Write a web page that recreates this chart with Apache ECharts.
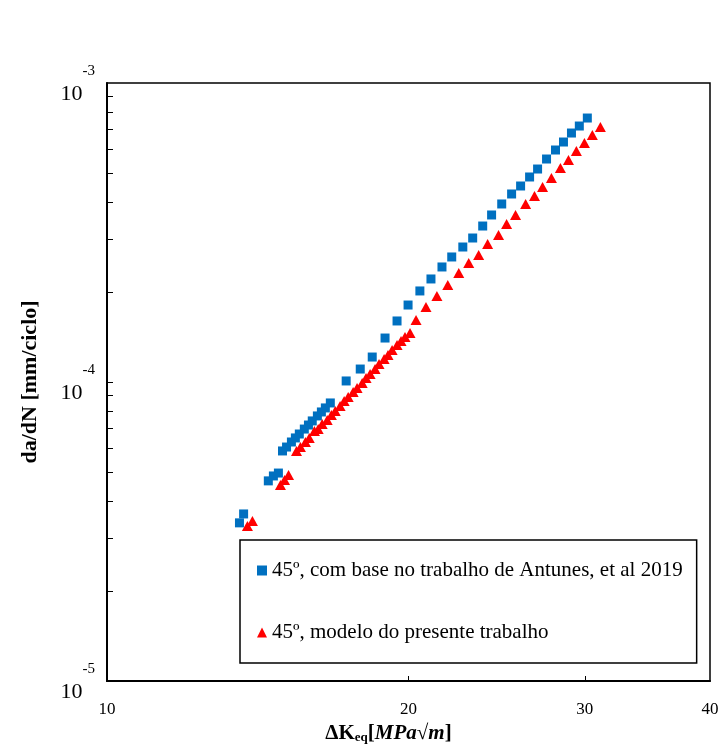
<!DOCTYPE html>
<html>
<head>
<meta charset="utf-8">
<script src="https://cdn.jsdelivr.net/npm/echarts@6/dist/echarts.min.js"></script>
<style>
  html, body { margin: 0; padding: 0; background: #fff; }
  #chart { width: 724px; height: 744px; }
</style>
</head>
<body>
<div id="chart"></div>
<script>
// ΔK_eq [MPa√m] and da/dN [mm/ciclo] for the two data sets
const antunesK = [13.56, 13.69, 14.49, 14.66, 14.83,
  14.97, 15.11, 15.28, 15.42, 15.56, 15.74, 15.89, 16.03, 16.22, 16.37, 16.52, 16.71,
  17.33, 17.90, 18.40, 18.95, 19.48, 19.98, 20.53, 21.06, 21.60, 22.09, 22.66, 23.18,
  23.72, 24.21, 24.78, 25.35, 25.88, 26.42, 26.91, 27.47, 28.04, 28.56, 29.09, 29.62, 30.17];
const antunesRate = [3.38e-5, 3.62e-5, 4.67e-5, 4.85e-5, 4.96e-5,
  5.88e-5, 6.06e-5, 6.30e-5, 6.50e-5, 6.70e-5, 6.96e-5, 7.18e-5, 7.41e-5, 7.70e-5, 7.94e-5, 8.19e-5, 8.51e-5,
  1.008e-4, 1.105e-4, 1.212e-4, 1.403e-4, 1.600e-4, 1.809e-4, 2.016e-4, 2.211e-4, 2.425e-4, 2.619e-4, 2.828e-4, 3.031e-4,
  3.324e-4, 3.619e-4, 3.939e-4, 4.254e-4, 4.524e-4, 4.849e-4, 5.156e-4, 5.569e-4, 5.969e-4, 6.348e-4, 6.803e-4, 7.180e-4, 7.636e-4];

const modelK = [13.81, 13.97, 14.90, 15.04, 15.18,
  15.46, 15.60, 15.78, 15.92, 16.11, 16.25, 16.40, 16.59, 16.75, 16.90, 17.09, 17.25, 17.41, 17.61,
  17.77, 17.98, 18.14, 18.31, 18.52, 18.69, 18.91, 19.08, 19.26, 19.48, 19.66, 19.84, 20.07,
  20.35, 20.82, 21.35, 21.89, 22.45, 22.97, 23.50, 23.99, 24.60, 25.06, 25.58, 26.18, 26.72,
  27.22, 27.78, 28.36, 28.89, 29.42, 29.97, 30.52, 31.09];
const modelRate = [3.30e-5, 3.43e-5, 4.52e-5, 4.70e-5, 4.89e-5,
  5.88e-5, 6.06e-5, 6.30e-5, 6.50e-5, 6.86e-5, 6.96e-5, 7.24e-5, 7.46e-5, 7.76e-5, 8.00e-5, 8.31e-5, 8.64e-5, 8.91e-5, 9.26e-5,
  9.55e-5, 9.92e-5, 1.031e-4, 1.064e-4, 1.105e-4, 1.149e-4, 1.194e-4, 1.231e-4, 1.280e-4, 1.330e-4, 1.371e-4, 1.415e-4, 1.459e-4,
  1.612e-4, 1.782e-4, 1.940e-4, 2.111e-4, 2.314e-4, 2.500e-4, 2.660e-4, 2.894e-4, 3.102e-4, 3.376e-4, 3.619e-4, 3.939e-4, 4.189e-4,
  4.489e-4, 4.812e-4, 5.196e-4, 5.526e-4, 5.924e-4, 6.300e-4, 6.699e-4, 7.125e-4];

const seriesNames = ['45º, com base no trabalho de Antunes, et al 2019', '45º, modelo do presente trabalho'];

const xLabelValues = [10, 20, 30, 40];
const xTickValues = [20, 30];
const yLabelValues = [1e-5, 1e-4, 1e-3];
const yTickValues = [2e-5, 3e-5, 4e-5, 5e-5, 6e-5, 7e-5, 8e-5, 9e-5, 1e-4,
  2e-4, 3e-4, 4e-4, 5e-4, 6e-4, 7e-4, 8e-4, 9e-4];

const pair = (xs, ys) => xs.map((x, i) => [x, ys[i]]);
const SERIF = '"Liberation Serif", "Times New Roman", serif';

const chart = echarts.init(document.getElementById('chart'), null, { renderer: 'canvas' });
chart.setOption({
  backgroundColor: '#ffffff',
  animation: false,
  grid: {
    left: 107, right: 14, top: 83, bottom: 63,
    show: true, borderColor: '#000', borderWidth: 1.5,
    containLabel: false, outerBoundsMode: 'none'
  },
  legend: {
    orient: 'vertical',
    left: 240, top: 540,
    padding: [20, 14, 20, 17],
    itemGap: 41,
    itemWidth: 10, itemHeight: 10,
    backgroundColor: '#fff',
    borderColor: '#000', borderWidth: 1.5,
    textStyle: { fontFamily: SERIF, fontSize: 21, color: '#000' },
    data: [
      { name: seriesNames[0], icon: 'rect', itemStyle: { color: '#0070C0' } },
      { name: seriesNames[1], icon: 'triangle', itemStyle: { color: '#FF0000' } }
    ]
  },
  xAxis: {
    type: 'log', logBase: 10, min: 10, max: 40,
    name: '{b|ΔK}{sub|eq}{b|[}{bi|MPa}{b|√}{bi|m}{b|]}',
    nameLocation: 'middle', nameGap: 42,
    nameTextStyle: {
      padding: [0, 40, 0, 0],
      rich: {
        b: { fontFamily: SERIF, fontSize: 21, fontWeight: 'bold', color: '#000' },
        bi: { fontFamily: SERIF, fontSize: 21, fontWeight: 'bold', fontStyle: 'italic', color: '#000' },
        sub: { fontFamily: SERIF, fontSize: 13, fontWeight: 'bold', color: '#000', padding: [8, 0, 0, 0] }
      }
    },
    axisLine: { show: true, onZero: false, lineStyle: { color: '#000', width: 2 } },
    axisTick: { show: true, inside: true, length: 5, customValues: xTickValues, lineStyle: { color: '#000', width: 1 } },
    minorTick: { show: false },
    splitLine: { show: false },
    axisLabel: {
      customValues: xLabelValues, margin: 20,
      fontFamily: SERIF, fontSize: 17, color: '#000',
      formatter: v => String(Math.round(v))
    }
  },
  yAxis: {
    type: 'log', logBase: 10, min: 1e-5, max: 1e-3,
    name: 'da/dN [mm/ciclo]',
    nameLocation: 'middle', nameGap: 66,
    nameTextStyle: { fontFamily: SERIF, fontSize: 22, fontWeight: 'bold', color: '#000' },
    axisLine: { show: true, onZero: false, lineStyle: { color: '#000', width: 2 } },
    axisTick: { show: true, inside: true, length: 6, customValues: yTickValues, lineStyle: { color: '#000', width: 1 } },
    minorTick: { show: false },
    splitLine: { show: false },
    axisLabel: {
      customValues: yLabelValues, margin: 12,
      formatter: v => '{base|10}{sup|' + Math.round(Math.log10(v)) + '}',
      rich: {
        base: { fontFamily: SERIF, fontSize: 22, color: '#000', padding: [22, 0, 0, 0] },
        sup: { fontFamily: SERIF, fontSize: 15, color: '#000', padding: [0, 0, 24, 0] }
      }
    }
  },
  series: [
    {
      name: seriesNames[0], type: 'scatter',
      symbol: 'rect', symbolSize: 9,
      itemStyle: { color: '#0070C0', opacity: 1 },
      data: pair(antunesK, antunesRate), z: 2
    },
    {
      name: seriesNames[1], type: 'scatter',
      symbol: 'triangle', symbolSize: [11, 10],
      itemStyle: { color: '#FF0000', opacity: 1 },
      data: pair(modelK, modelRate), z: 3
    }
  ]
});
</script>
</body>
</html>
